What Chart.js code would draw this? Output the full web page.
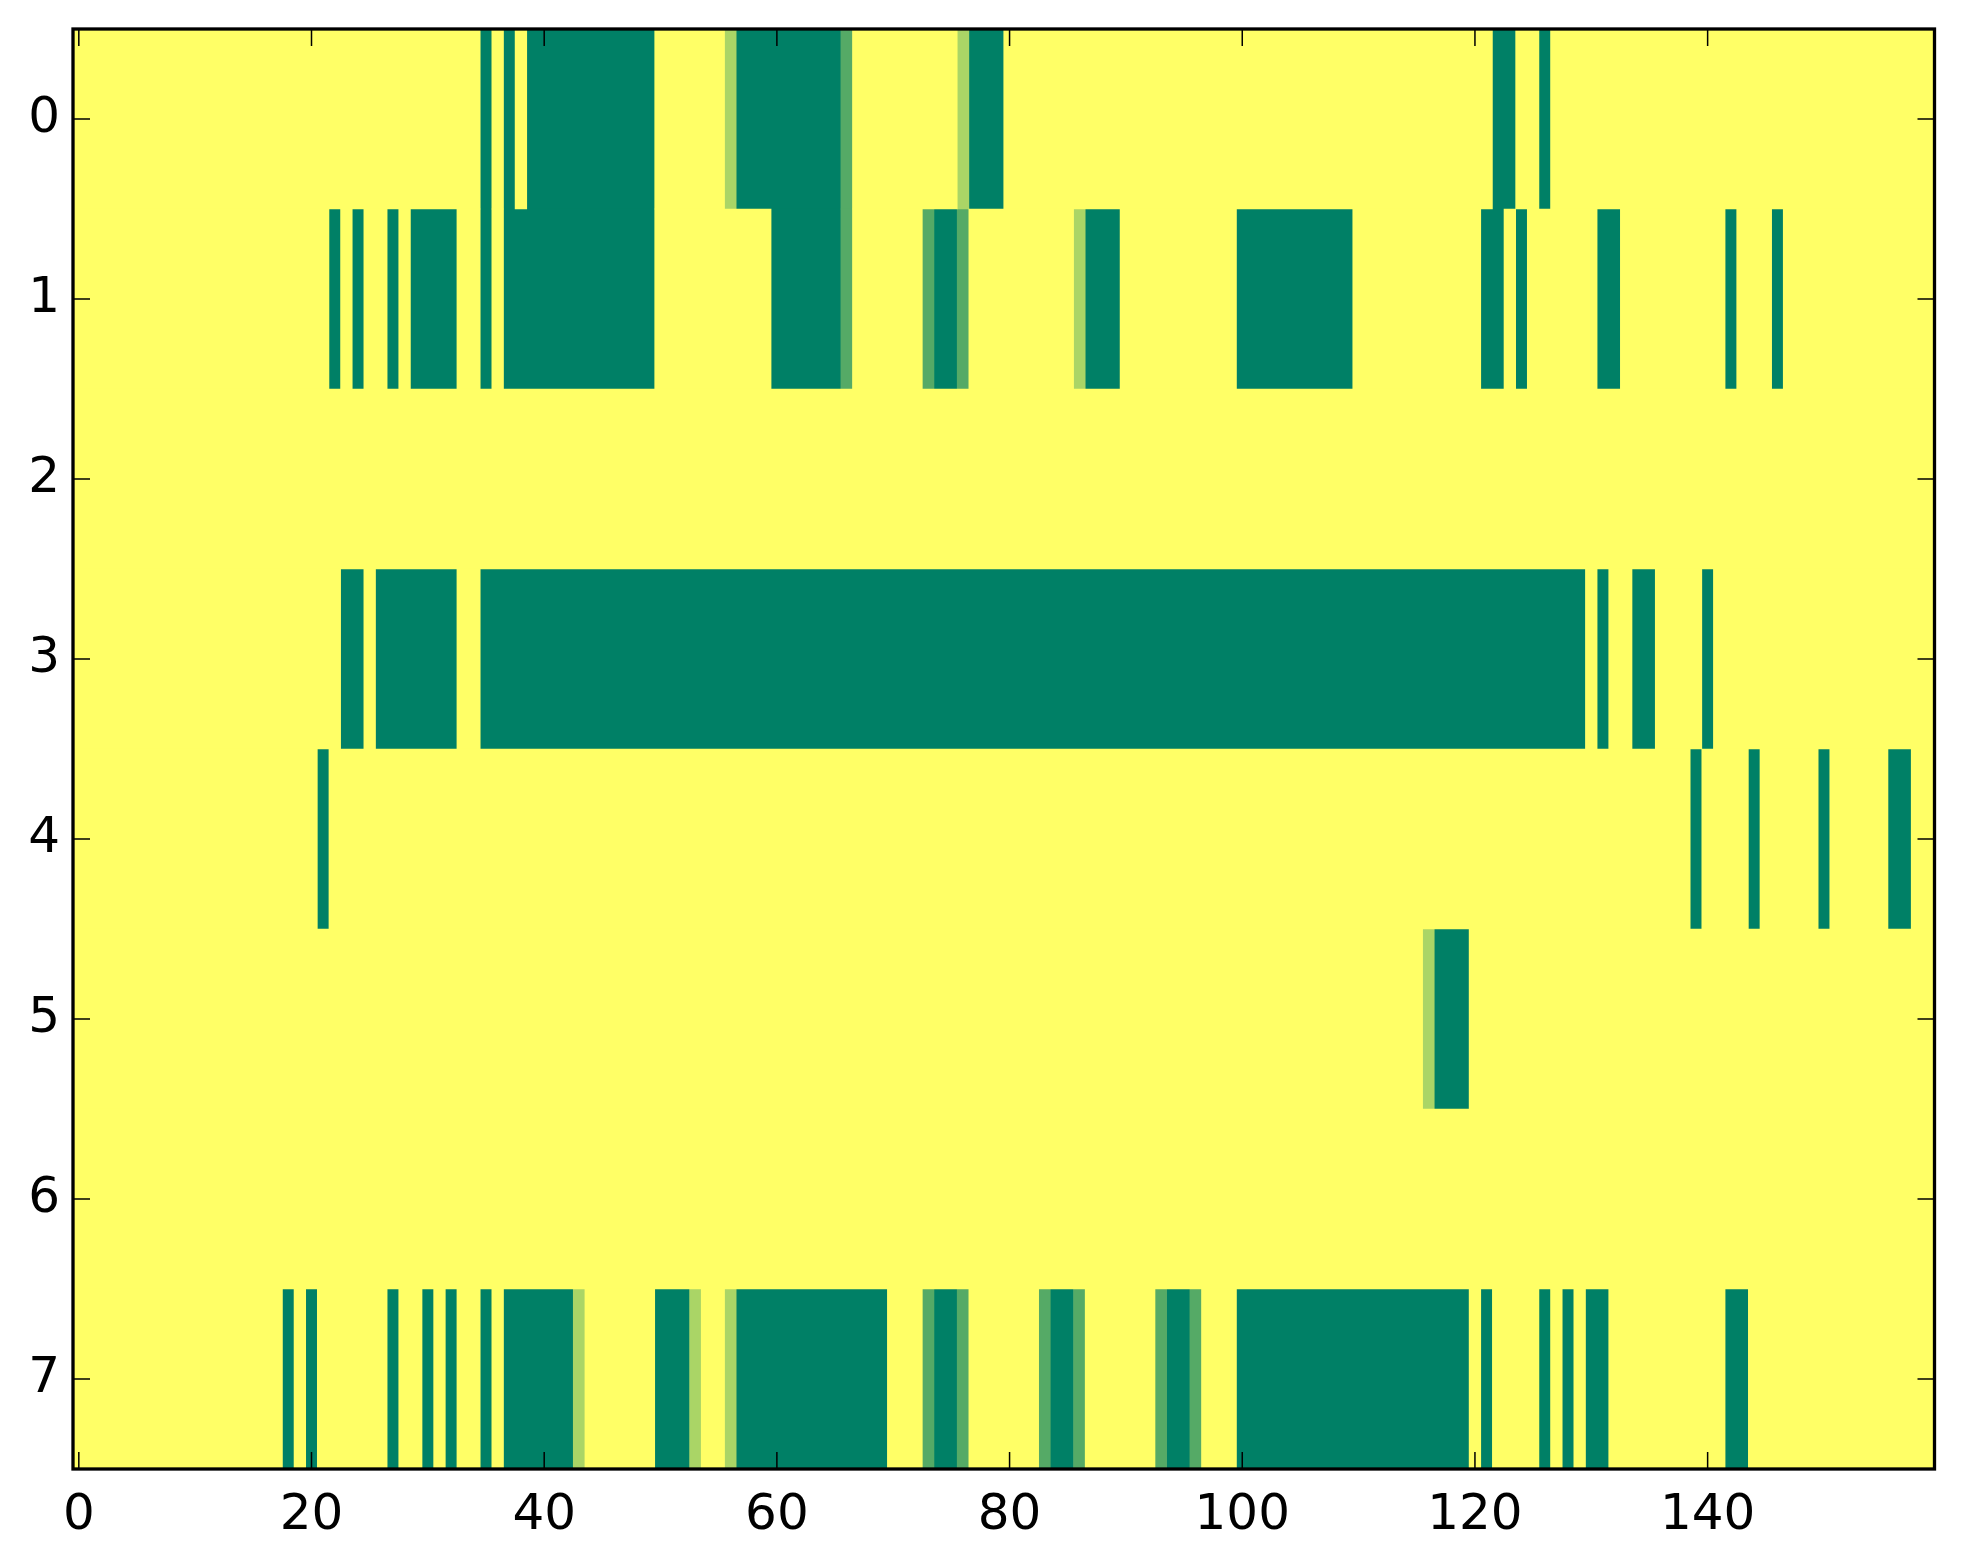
<!DOCTYPE html>
<html>
<head>
<meta charset="utf-8">
<script src="https://cdn.jsdelivr.net/npm/chart.js@4.4.0/dist/chart.umd.min.js"></script>
<style>
  html, body { margin: 0; padding: 0; background: #fff; }
  #wrap { width: 1963px; height: 1564px; }
</style>
</head>
<body>
<div id="wrap"><canvas id="heat" width="1963" height="1564"></canvas></div>
<script>
const rowLabels = ['0', '1', '2', '3', '4', '5', '6', '7'];
const nCols = 160;
const xTicks = [0, 20, 40, 60, 80, 100, 120, 140];
const maxLevel = 3;

// non-zero cells of each row: [first column, last column, level]
const row0 = [[35,35,3],[37,37,3],[39,49,3],[56,56,1],[57,65,3],[66,66,2],[76,76,1],[77,79,3],[122,123,3],[126,126,3]];
const row1 = [[22,22,3],[24,24,3],[27,27,3],[29,32,3],[35,35,3],[37,49,3],[60,65,3],[66,66,2],[73,73,2],[74,75,3],[76,76,2],
              [86,86,1],[87,89,3],[100,109,3],[121,122,3],[124,124,3],[131,132,3],[142,142,3],[146,146,3]];
const row2 = [];
const row3 = [[23,24,3],[26,32,3],[35,129,3],[131,131,3],[134,135,3],[140,140,3]];
const row4 = [[21,21,3],[139,139,3],[144,144,3],[150,150,3],[156,157,3]];
const row5 = [[116,116,1],[117,119,3]];
const row6 = [];
const row7 = [[18,18,3],[20,20,3],[27,27,3],[30,30,3],[32,32,3],[35,35,3],[37,42,3],[43,43,1],[50,52,3],[53,53,1],[56,56,1],
              [57,69,3],[73,73,2],[74,75,3],[76,76,2],[83,83,2],[84,85,3],[86,86,2],[93,93,2],[94,95,3],[96,96,2],
              [100,119,3],[121,121,3],[126,126,3],[128,128,3],[130,131,3],[142,143,3]];
const rows = [row0, row1, row2, row3, row4, row5, row6, row7];

// matplotlib summer_r
function summerR(level) {
    const v = level / maxLevel;
    const r = Math.round(255 * (1 - v));
    const g = Math.round(255 * (1 - 0.5 * v));
    return `rgb(${r},${g},102)`;
}

// expand the runs into cells, then merge equal neighbours into floating bars
const cellGrid = rows.map(runs => {
    const cells = new Array(nCols).fill(0);
    runs.forEach(([a, b, lvl]) => {
        for (let c = a; c <= b; c++) cells[c] = lvl;
    });
    return cells;
});

const barsByLevel = [[], [], [], []];
cellGrid.forEach((cells, r) => {
    let start = 0;
    for (let c = 1; c <= nCols; c++) {
        if (c === nCols || cells[c] !== cells[start]) {
            barsByLevel[cells[start]].push({ x: [start - 0.5, c - 0.5], y: rowLabels[r] });
            start = c;
        }
    }
});

// black frame with inward ticks on all four sides
const frame = {
    id: 'frame',
    afterDatasetsDraw(chart) {
        const { ctx, chartArea: a, scales: { x, y } } = chart;
        ctx.save();
        ctx.strokeStyle = '#000';
        ctx.lineWidth = 1.5;
        ctx.beginPath();
        xTicks.forEach(v => {
            const px = x.getPixelForValue(v);
            ctx.moveTo(px, a.bottom); ctx.lineTo(px, a.bottom - 17);
            ctx.moveTo(px, a.top); ctx.lineTo(px, a.top + 17);
        });
        rowLabels.forEach((lab, i) => {
            const py = y.getPixelForValue(i);
            ctx.moveTo(a.left, py); ctx.lineTo(a.left + 17, py);
            ctx.moveTo(a.right, py); ctx.lineTo(a.right - 17, py);
        });
        ctx.stroke();
        ctx.lineWidth = 3.3;
        ctx.strokeRect(a.left, a.top, a.right - a.left, a.bottom - a.top);
        ctx.restore();
    }
};

const tickFont = { family: 'DejaVu Sans', size: 50 };

new Chart(document.getElementById('heat'), {
    type: 'bar',
    data: {
        datasets: barsByLevel.map((bars, lvl) => ({
            data: bars,
            backgroundColor: summerR(lvl),
            borderWidth: 0,
            grouped: false,
            barPercentage: 1,
            categoryPercentage: 1
        }))
    },
    options: {
        indexAxis: 'y',
        responsive: false,
        devicePixelRatio: 1,
        animation: false,
        layout: { padding: { left: 0, top: 29, right: 28.5, bottom: 0 } },
        plugins: {
            legend: { display: false },
            tooltip: { enabled: false }
        },
        scales: {
            x: {
                type: 'linear',
                min: -0.5,
                max: 159.5,
                grid: { display: false, drawTicks: false },
                border: { display: false },
                afterBuildTicks: s => { s.ticks = xTicks.map(v => ({ value: v })); },
                afterFit: s => { s.height = 95; s.paddingLeft = 0; s.paddingRight = 0; },
                ticks: { font: tickFont, color: '#000', padding: 17, maxRotation: 0, autoSkip: false }
            },
            y: {
                type: 'category',
                labels: rowLabels,
                offset: true,
                grid: { display: false, drawTicks: false },
                border: { display: false },
                afterFit: s => { s.width = 73; s.paddingTop = 0; s.paddingBottom = 0; },
                ticks: { font: tickFont, color: '#000', padding: 13 }
            }
        }
    },
    plugins: [frame]
});
</script>
</body>
</html>
